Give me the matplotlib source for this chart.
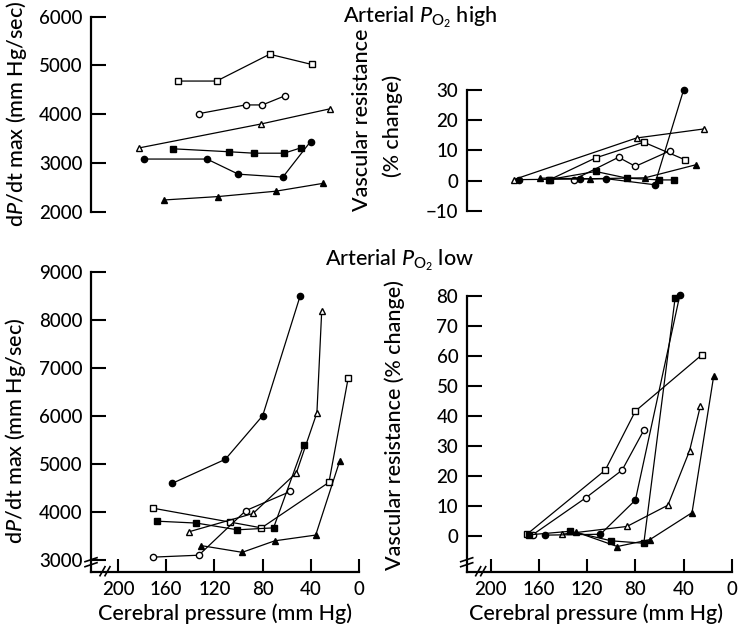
import matplotlib
matplotlib.use("Agg")
import matplotlib.pyplot as plt

plt.rcParams["font.family"] = ["Lato", "DejaVu Sans"]
plt.rcParams["font.weight"] = "medium"
plt.rcParams["mathtext.fontset"] = "custom"
plt.rcParams["mathtext.rm"] = "Lato:medium"
plt.rcParams["mathtext.it"] = "Lato:italic:medium"

# ---- Arterial PO2 high : dP/dt max (mm Hg/sec) vs cerebral pressure ----
hi_p_osq = [150, 118, 74, 39]
hi_dp_osq = [4680, 4680, 5230, 5020]
hi_p_oci = [133, 94, 80, 61]
hi_dp_oci = [4010, 4190, 4190, 4380]
hi_p_otr = [182, 81, 24]
hi_dp_otr = [3310, 3800, 4110]
hi_p_fsq = [154, 108, 87, 62, 48]
hi_dp_fsq = [3290, 3230, 3200, 3200, 3310]
hi_p_fci = [178, 126, 100, 63, 40]
hi_dp_fci = [3080, 3080, 2770, 2710, 3440]
hi_p_ftr = [162, 117, 69, 30]
hi_dp_ftr = [2240, 2310, 2420, 2580]

# ---- Arterial PO2 high : vascular resistance (% change) ----
hi_rp_osq = [151, 113, 73, 39]
hi_vr_osq = [0.3, 7.5, 12.7, 6.9]
hi_rp_oci = [131, 94, 80, 51]
hi_vr_oci = [0.3, 7.7, 4.7, 9.9]
hi_rp_otr = [181, 79, 23]
hi_vr_otr = [0.3, 14.1, 17.1]
hi_rp_fsq = [152, 113, 87, 60, 48]
hi_vr_fsq = [0.3, 3.0, 0.8, 0.2, 0.2]
hi_rp_fci = [177, 126, 104, 64, 40]
hi_vr_fci = [0.3, 0.5, 0.6, -1.4, 30]
hi_rp_ftr = [159, 118, 72, 30]
hi_vr_ftr = [0.8, 0.6, 0.9, 5.2]

# ---- Arterial PO2 low : dP/dt max ----
lo_p_osq = [171, 107, 81, 25, 9]
lo_dp_osq = [4080, 3790, 3670, 4620, 6800]
lo_p_oci = [171, 133, 94, 57]
lo_dp_oci = [3060, 3100, 4030, 4430]
lo_p_otr = [141, 88, 52, 35, 31]
lo_dp_otr = [3590, 3970, 4820, 6070, 8200]
lo_p_fsq = [168, 135, 101, 71, 46]
lo_dp_fsq = [3810, 3770, 3630, 3670, 5400]
lo_p_fci = [155, 111, 80, 49]
lo_dp_fci = [4600, 5100, 6010, 8500]
lo_p_ftr = [131, 97, 70, 36, 16]
lo_dp_ftr = [3300, 3160, 3400, 3520, 5070]

# ---- Arterial PO2 low : vascular resistance ----
lo_rp_osq = [170, 105, 80, 25]
lo_vr_osq = [0.5, 21.9, 41.6, 60.3]
lo_rp_oci = [165, 121, 91, 73]
lo_vr_oci = [0.4, 12.7, 21.9, 35.2]
lo_rp_otr = [141, 87, 53, 35, 26]
lo_vr_otr = [0.5, 3.1, 10.2, 28.4, 43.4]
lo_rp_fsq = [168, 134, 100, 73, 47]
lo_vr_fsq = [0.3, 1.5, -1.7, -2.5, 79.4]
lo_rp_fci = [155, 109, 80, 43]
lo_vr_fci = [0.2, 0.5, 11.9, 80.5]
lo_rp_ftr = [129, 95, 68, 33, 15]
lo_vr_ftr = [1.2, -3.6, -1.3, 7.7, 53.3]

pressure_ticks = [200, 160, 120, 80, 40, 0]

W, H = 738.0, 628.0
FS = 13.5   # tick labels
LS = 15.5   # titles and axis labels


def rect(left, top, right, bottom):
    """pixel box -> figure fraction"""
    return [left / W, 1 - bottom / H, (right - left) / W, (bottom - top) / H]


def draw_series(ax, x, y, marker, filled):
    ax.plot(x, y, color="black", lw=0.9, marker=marker, ms=5 if marker != "o" else 4.5,
            mfc="black" if filled else "white", mec="black", mew=1.0, clip_on=False)


def style(ax, ylim, yticks, ylabels, xaxis):
    ax.set_ylim(ylim)
    ax.set_yticks(yticks)
    ax.set_yticklabels(ylabels)
    ax.spines["top"].set_visible(False)
    ax.spines["right"].set_visible(False)
    ax.spines["left"].set_linewidth(1.6)
    ax.tick_params(axis="y", direction="in", length=11, width=1.5, pad=6, labelsize=FS)
    if xaxis:
        ax.set_xticks(pressure_ticks)
        ax.spines["bottom"].set_linewidth(1.6)
        ax.spines["bottom"].set_bounds(ax.get_xlim()[0], 0)
        ax.tick_params(axis="x", direction="in", length=9.5, width=1.5, pad=7, labelsize=FS)
    else:
        ax.spines["bottom"].set_visible(False)
        ax.set_xticks([])
        ax.spines["left"].set_bounds(ylim[0], ylim[1])


def break_marks(ax, w_px, h_px):
    kw = dict(color="black", lw=1.2, transform=ax.transAxes, clip_on=False)
    for dy in (5, 10):
        ax.plot([-6 / w_px, 6 / w_px], [dy / h_px, (dy + 4) / h_px], **kw)
    for dx in (9, 14):
        ax.plot([dx / w_px, (dx + 5) / w_px], [-4 / h_px, 5 / h_px], **kw)


fig = plt.figure(figsize=(W / 100, H / 100), dpi=100)

# top left
ax1 = fig.add_axes(rect(90.7, 16.7, 364.8, 211.7))
ax1.set_xlim(222.5, -5)
for x, y, m, f in [(hi_p_osq, hi_dp_osq, "s", False), (hi_p_oci, hi_dp_oci, "o", False),
                   (hi_p_otr, hi_dp_otr, "^", False), (hi_p_fsq, hi_dp_fsq, "s", True),
                   (hi_p_fci, hi_dp_fci, "o", True), (hi_p_ftr, hi_dp_ftr, "^", True)]:
    draw_series(ax1, x, y, m, f)
style(ax1, (2000, 6000), [2000, 3000, 4000, 5000, 6000],
      ["2000", "3000", "4000", "5000", "6000"], False)

# top right
ax2 = fig.add_axes(rect(466.7, 90, 737.8, 210.7))
ax2.set_xlim(220, -5)
for x, y, m, f in [(hi_rp_osq, hi_vr_osq, "s", False), (hi_rp_oci, hi_vr_oci, "o", False),
                   (hi_rp_otr, hi_vr_otr, "^", False), (hi_rp_fsq, hi_vr_fsq, "s", True),
                   (hi_rp_fci, hi_vr_fci, "o", True), (hi_rp_ftr, hi_vr_ftr, "^", True)]:
    draw_series(ax2, x, y, m, f)
style(ax2, (-10, 30), [-10, 0, 10, 20, 30], ["\u221210", "0", "10", "20", "30"], False)

# bottom left
ax3 = fig.add_axes(rect(91, 272.3, 365.1, 571.7))
ax3.set_xlim(222.5, -5)
for x, y, m, f in [(lo_p_osq, lo_dp_osq, "s", False), (lo_p_oci, lo_dp_oci, "o", False),
                   (lo_p_otr, lo_dp_otr, "^", False), (lo_p_fsq, lo_dp_fsq, "s", True),
                   (lo_p_fci, lo_dp_fci, "o", True), (lo_p_ftr, lo_dp_ftr, "^", True)]:
    draw_series(ax3, x, y, m, f)
style(ax3, (2756, 9000), [3000, 4000, 5000, 6000, 7000, 8000, 9000],
      ["3000", "4000", "5000", "6000", "7000", "8000", "9000"], True)
break_marks(ax3, 274.1, 299.4)

# bottom right
ax4 = fig.add_axes(rect(466.7, 296, 737.8, 571.7))
ax4.set_xlim(220, -5)
for x, y, m, f in [(lo_rp_osq, lo_vr_osq, "s", False), (lo_rp_oci, lo_vr_oci, "o", False),
                   (lo_rp_otr, lo_vr_otr, "^", False), (lo_rp_fsq, lo_vr_fsq, "s", True),
                   (lo_rp_fci, lo_vr_fci, "o", True), (lo_rp_ftr, lo_vr_ftr, "^", True)]:
    draw_series(ax4, x, y, m, f)
style(ax4, (-12, 80), [0, 10, 20, 30, 40, 50, 60, 70, 80],
      ["0", "10", "20", "30", "40", "50", "60", "70", "80"], True)
break_marks(ax4, 271.1, 275.7)

# titles and axis labels
fig.text(420 / W, 1 - 22 / H, r"Arterial $P_{\mathrm{O}_2}$ high", ha="center", va="baseline", fontsize=LS)
fig.text(400 / W, 1 - 265 / H, r"Arterial $P_{\mathrm{O}_2}$ low", ha="center", va="baseline", fontsize=LS)
fig.text(17 / W, 1 - 114 / H, r"d$P$/dt max (mm Hg/sec)", rotation=90, ha="center", va="center", fontsize=LS)
fig.text(16 / W, 1 - 431 / H, r"d$P$/dt max (mm Hg/sec)", rotation=90, ha="center", va="center", fontsize=LS)
fig.text(362 / W, 1 - 120 / H, "Vascular resistance", rotation=90, ha="center", va="center", fontsize=LS)
fig.text(393 / W, 1 - 126 / H, "(% change)", rotation=90, ha="center", va="center", fontsize=LS)
fig.text(395 / W, 1 - 425 / H, "Vascular resistance (% change)", rotation=90, ha="center", va="center", fontsize=LS)
fig.text(225 / W, 1 - 620 / H, "Cerebral pressure (mm Hg)", ha="center", va="baseline", fontsize=LS)
fig.text(596 / W, 1 - 620 / H, "Cerebral pressure (mm Hg)", ha="center", va="baseline", fontsize=LS)

fig.savefig("out.png", dpi=100)
